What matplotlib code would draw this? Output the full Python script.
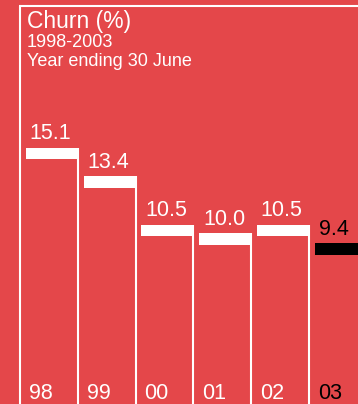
import matplotlib.pyplot as plt

# data
years = ['98', '99', '00', '01', '02', '03']
churn = [15.1, 13.4, 10.5, 10.0, 10.5, 9.4]
label_text = ['15.1', '13.4', '10.5', '10.0', '10.5', '9.4']
title = 'Churn (%)'
subtitle1 = '1998-2003'
subtitle2 = 'Year ending 30 June'

bg = '#e4474a'
plt.rcParams['font.family'] = ['Liberation Sans', 'DejaVu Sans']

fig = plt.figure(figsize=(3.58, 4.04), dpi=100, facecolor=bg)
ax = fig.add_axes([0, 0, 1, 1])
ax.set_facecolor(bg)
ax.set_axis_off()

# roughly 57.8 px per slot, 16.7 px per churn unit
ax.set_xlim(-20 / 57.8, 338 / 57.8)
ax.set_ylim(-4 / 16.7, 400 / 16.7)

cap = 0.69
n = len(churn)
colours = ['white'] * (n - 1) + ['black']
xs = list(range(n))

# thick caps sitting at each value
ax.bar([x + 0.1 for x in xs], [cap] * n, width=0.91, bottom=[v - cap for v in churn],
       align='edge', color=colours, linewidth=0)

# frame: left side and top rule
ax.vlines(0, -1, 23.62, color='white', lw=1.5)
ax.hlines(23.62, -0.02, 6.5, color='white', lw=1.5)

# right edges of each column, down from the cap
ax.vlines([x + 1 for x in xs[:-1]], -1, churn[:-1], color='white', lw=1.5)

for x, v, t, y, c in zip(xs, churn, label_text, years, colours):
    ax.text(x + 0.165, v + 0.5, t, color=c, fontsize=15.5, va='baseline', ha='left')
    ax.text(x + 0.155, -0.21, y, color=c, fontsize=15.5, va='bottom', ha='left')

ax.text(0.12, 22.28, title, color='white', fontsize=16.5, va='baseline')
ax.text(0.12, 21.14, subtitle1, color='white', fontsize=13, va='baseline')
ax.text(0.12, 19.98, subtitle2, color='white', fontsize=13, va='baseline')

plt.savefig('out.png', dpi=100, facecolor=bg)
